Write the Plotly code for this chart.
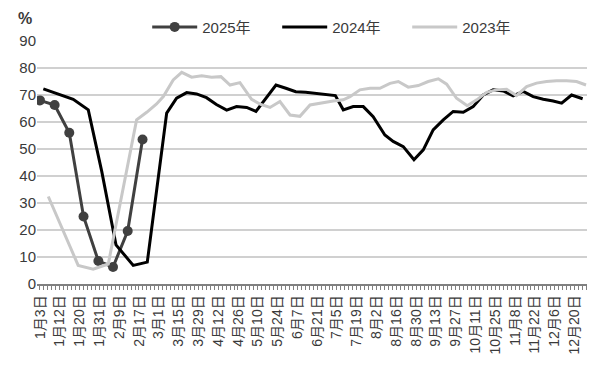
import plotly.graph_objects as go

tick_labels = ["1月3日", "1月12日", "1月20日", "1月31日", "2月9日", "2月17日", "3月1日",
               "3月15日", "3月29日", "4月12日", "4月26日", "5月10日", "5月24日", "6月7日",
               "6月21日", "7月5日", "7月19日", "8月2日", "8月16日", "8月30日", "9月13日",
               "9月27日", "10月11日", "10月25日", "11月8日", "11月22日", "12月6日", "12月20日"]

# x positions in units of the labelled tick index
x2025 = [0, 0.74, 1.48, 2.2, 2.95, 3.69, 4.43, 5.18]
y2025 = [68, 66.3, 56, 25, 8.5, 6.3, 19.6, 53.5]

x2024 = [0.17, 0.9, 1.68, 2.44, 3.12, 3.84, 4.71, 5.42, 6.40, 6.90, 7.41, 7.91, 8.41, 8.91,
         9.43, 9.93, 10.44, 10.91, 11.42, 11.92, 12.42, 12.92, 13.42, 13.92, 14.42, 14.92,
         15.32, 15.82, 16.33, 16.83, 17.42, 17.84, 18.35, 18.89, 19.36, 19.86, 20.37, 20.87,
         21.38, 21.88, 22.39, 22.89, 23.40, 23.90, 24.41, 24.91, 25.42, 25.92, 26.35, 26.85,
         27.41]
y2024 = [72.3, 70.3, 68.4, 64.5, 41.7, 14.5, 6.9, 8.1, 63.3, 68.8, 70.9, 70.4, 69.0, 66.5,
         64.4, 65.7, 65.4, 63.9, 69.0, 73.7, 72.5, 71.2, 71.0, 70.6, 70.3, 69.8,
         64.5, 65.7, 65.7, 62.0, 55.2, 52.8, 50.9, 46.0, 49.7, 57.1, 60.8, 63.9,
         63.6, 65.7, 70.0, 71.9, 71.5, 69.7, 71.3, 69.4, 68.4, 67.8, 67.0, 70.0,
         68.6]

x2023 = [0.42, 1.93, 2.69, 3.45, 4.88, 5.39, 5.89, 6.23, 6.73, 7.16, 7.66, 8.17, 8.67, 9.14,
         9.60, 10.10, 10.69, 11.15, 11.62, 12.12, 12.63, 13.13, 13.64, 14.31, 14.81, 15.32,
         15.66, 16.16, 16.67, 17.17, 17.68, 18.10, 18.60, 19.11, 19.61, 20.12, 20.54, 21.04,
         21.58, 22.06, 22.56, 23.06, 23.57, 24.07, 24.58, 25.08, 25.59, 26.09, 26.60, 27.10,
         27.58]
y2023 = [32.4, 6.9, 5.5, 7.4, 60.8, 63.6, 66.7, 69.4, 75.6, 78.4, 76.6, 77.1, 76.6, 76.8,
         73.7, 74.6, 68.4, 66.5, 65.4, 67.6, 62.6, 62.1, 66.3, 67.2, 67.8, 68.2,
         69.4, 71.9, 72.5, 72.5, 74.3, 75.0, 72.9, 73.5, 75.0, 76.0, 74.0, 68.8,
         66.0, 68.2, 71.0, 71.9, 72.1, 69.8, 73.1, 74.4, 75.0, 75.3, 75.3, 75.0,
         73.7]

y_ticks = [0, 10, 20, 30, 40, 50, 60, 70, 80, 90]

FONT = "Liberation Sans, Arial, Noto Sans CJK SC, sans-serif"
TXT = "#3a3a3a"

fig = go.Figure()
fig.add_trace(go.Scatter(x=x2025, y=y2025, name="2025年", mode="lines+markers",
                         line=dict(color="#404040", width=3),
                         marker=dict(color="#404040", size=10)))
fig.add_trace(go.Scatter(x=x2024, y=y2024, name="2024年", mode="lines",
                         line=dict(color="#000000", width=3)))
fig.add_trace(go.Scatter(x=x2023, y=y2023, name="2023年", mode="lines",
                         line=dict(color="#c8c8c8", width=3)))

fig.update_layout(
    width=587, height=358,
    margin=dict(l=29, r=7, t=33, b=82, autoexpand=False),
    paper_bgcolor="white", plot_bgcolor="white",
    font=dict(family=FONT, size=15, color=TXT),
    legend=dict(orientation="h", x=0.2, xanchor="left", y=1.057, yanchor="middle",
                font=dict(size=15, color=TXT), itemwidth=45,
                entrywidth=70, entrywidthmode="pixels",
                traceorder="normal", bgcolor="rgba(0,0,0,0)"),
    showlegend=True,
)
fig.update_xaxes(
    automargin=False,
    range=[-0.15, 27.68],
    tickmode="array", tickvals=list(range(len(tick_labels))), ticktext=tick_labels,
    tickangle=-90, tickfont=dict(size=14, color=TXT),
    ticks="outside", ticklen=4, tickcolor="#808080", tickwidth=1,
    minor=dict(ticks="outside", dtick=0.2, tick0=0, ticklen=4, tickcolor="#808080",
               tickwidth=1, showgrid=False),
    showline=True, linecolor="#808080", linewidth=1.5,
    showgrid=False, zeroline=False,
)
fig.update_yaxes(
    automargin=False,
    range=[0, 90], tickvals=y_ticks,
    tickfont=dict(size=15, color=TXT),
    showgrid=True, gridcolor="#d0d0d0", gridwidth=1.5,
    zeroline=False, showline=False, ticks="",
)
fig.add_annotation(text="<b>%</b>", xref="paper", yref="paper", x=-0.005, y=1.05,
                   xanchor="right", yanchor="bottom", showarrow=False,
                   font=dict(size=16, color=TXT, family=FONT))

fig.write_html("out.html")
